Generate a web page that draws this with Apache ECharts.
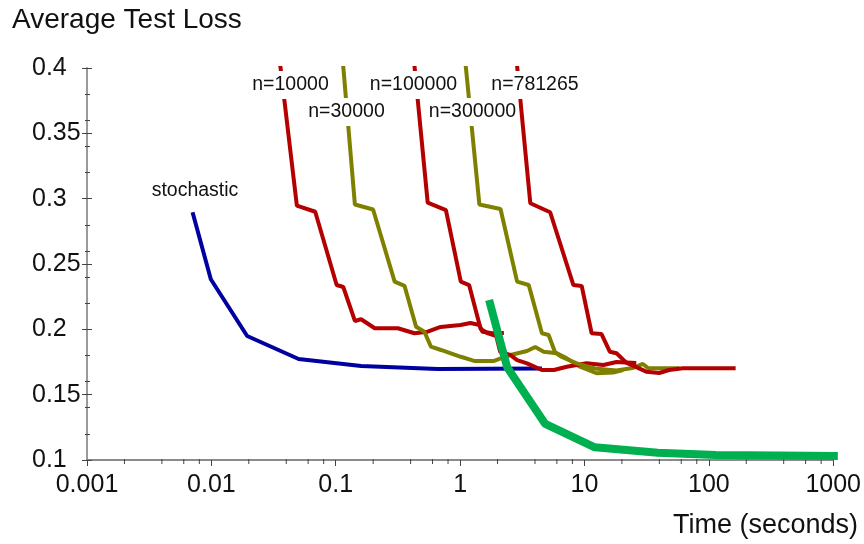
<!DOCTYPE html>
<html>
<head>
<meta charset="utf-8">
<script src="https://cdn.jsdelivr.net/npm/echarts@6/dist/echarts.min.js"></script>
<style>
html,body{margin:0;padding:0;background:#fff;}
#chart{width:864px;height:544px;}
</style>
</head>
<body>
<div id="chart"></div>
<script>
// ---- data (time in seconds, average test loss) ----
const stochasticTime = [0.00706, 0.0099, 0.0194, 0.0503, 0.160, 0.660, 4.55];
const stochasticLoss = [0.2896, 0.2383, 0.1949, 0.1773, 0.1720, 0.1697, 0.1700];

const greenTime = [1.71, 2.39, 4.84, 12.1, 38.9, 113.8, 1090];
const greenLoss = [0.2225, 0.171, 0.1276, 0.1097, 0.1056, 0.1038, 0.103];

const n10000Time = [0.035, 0.0487, 0.0684, 0.1017, 0.115, 0.1426, 0.160, 0.206, 0.316, 0.430, 0.549, 0.6975, 1.007, 1.21, 1.43, 1.51, 1.815, 2.25];
const n10000Loss = [0.41, 0.2946, 0.290, 0.2339, 0.2324, 0.2064, 0.2077, 0.2008, 0.2008, 0.197, 0.1982, 0.2018, 0.2033, 0.2049, 0.2033, 0.1982, 0.197, 0.1972];

const n30000Time = [0.1129, 0.1426, 0.1997, 0.2976, 0.3577, 0.4426, 0.5164, 0.583, 0.702, 1.013, 1.296, 1.873, 2.54, 3.45, 4.02, 4.70, 6.0, 7.21, 9.2, 12.5, 17.0, 20.45];
const n30000Loss = [0.41, 0.2955, 0.2917, 0.2365, 0.2332, 0.202, 0.1982, 0.1867, 0.1842, 0.179, 0.1758, 0.1758, 0.1804, 0.1834, 0.1865, 0.1829, 0.1817, 0.1778, 0.1714, 0.1664, 0.167, 0.1689];

const n100000Time = [0.4212, 0.549, 0.769, 1.013, 1.182, 1.463, 1.656, 1.953, 2.102, 2.527, 2.874, 3.454, 4.55, 5.68, 7.21, 10.4, 14.2, 18.1, 26.1];
const n100000Loss = [0.41, 0.2969, 0.2913, 0.2365, 0.2339, 0.2003, 0.1972, 0.1949, 0.1827, 0.1804, 0.1765, 0.174, 0.1689, 0.1689, 0.1714, 0.174, 0.1727, 0.175, 0.1742];

const n300000Time = [1.088, 1.429, 2.114, 2.874, 3.564, 4.55, 5.15, 5.81, 6.58, 8.66, 12.06, 18.1, 24.3, 29.5, 32.6, 57.9];
const n300000Loss = [0.41, 0.2955, 0.2921, 0.2365, 0.2339, 0.197, 0.1957, 0.1823, 0.1788, 0.1739, 0.170, 0.1685, 0.1704, 0.1735, 0.1702, 0.1702];

const n781265Time = [2.817, 3.67, 5.30, 8.15, 9.50, 11.42, 13.72, 15.98, 18.1, 21.7, 31.4, 39.9, 47.9, 61.7, 164.3];
const n781265Loss = [0.41, 0.2965, 0.2896, 0.2339, 0.2332, 0.197, 0.1964, 0.1829, 0.1817, 0.1745, 0.1676, 0.1666, 0.1689, 0.1702, 0.1702];

// axis tick values
const xMin = 0.001, xMax = 1000;
const yMin = 0.1, yMax = 0.4;
const xMinorTicks = [0.002,0.004,0.006,0.008, 0.02,0.04,0.06,0.08, 0.2,0.4,0.6,0.8, 2,4,6,8, 20,40,60,80, 200,400,600,800];

const annotations = [
  {text: 'n=10000', cx: 290.5, cy: 85},
  {text: 'n=30000', cx: 346.5, cy: 112},
  {text: 'n=100000', cx: 413.5, cy: 85},
  {text: 'n=300000', cx: 472.5, cy: 112},
  {text: 'n=781265', cx: 535, cy: 85},
  {text: 'stochastic', cx: 195, cy: 191}
];

function pairs(t, l) { return t.map((v, i) => [v, l[i]]); }

const RED = '#B40000', OLIVE = '#808000', BLUE = '#0000A0', GREEN = '#00B050';
const FONT = '"Liberation Sans", Arial, sans-serif';

function lineSeries(name, t, l, color, width, extra) {
  return Object.assign({
    name: name, type: 'line', data: pairs(t, l), showSymbol: false, symbol: 'none',
    lineStyle: {color: color, width: width}, itemStyle: {color: color},
    xAxisIndex: 0, yAxisIndex: 0, animation: false, silent: true
  }, extra || {});
}

const chart = echarts.init(document.getElementById('chart'), null, {renderer: 'canvas'});

const yCommon = {type: 'value', min: yMin, max: yMax, position: 'left', splitLine: {show: false}};

chart.setOption({
  animation: false,
  backgroundColor: '#fff',
  title: [
    {text: 'Average Test Loss', left: 12, top: 6, padding: 0,
     textStyle: {fontFamily: FONT, fontSize: 28, fontWeight: 'normal', color: '#111'}},
    {text: 'Time (seconds)', right: 6, top: 512, padding: 0,
     textStyle: {fontFamily: FONT, fontSize: 27, fontWeight: 'normal', color: '#111'}}
  ],
  grid: {left: 87, right: 26, top: 68, bottom: 84, containLabel: false},
  xAxis: [{
    type: 'log', logBase: 10, min: xMin, max: xMax, splitNumber: 6,
    axisLine: {show: true, lineStyle: {color: '#666', width: 1.5}},
    axisTick: {show: true, length: 6, lineStyle: {color: '#444', width: 1}},
    splitLine: {show: false},
    axisLabel: {margin: 13, fontFamily: FONT, fontSize: 25, color: '#111',
      formatter: v => String(Number(Number(v).toPrecision(1)))}
  }],
  yAxis: [
    Object.assign({}, yCommon, {
      interval: 0.05,
      axisLine: {show: true, lineStyle: {color: '#9a9a9a', width: 2}},
      axisTick: {show: true, length: 5, lineStyle: {color: '#444', width: 1}},
      axisLabel: {margin: 55, align: 'left', fontFamily: FONT, fontSize: 25, color: '#111',
        formatter: v => String(Number(Number(v).toFixed(2)))}
    }),
    Object.assign({}, yCommon, {
      interval: 0.05,
      axisLine: {show: false},
      axisTick: {show: true, inside: true, length: 5, lineStyle: {color: '#444', width: 1}},
      axisLabel: {show: false}
    }),
    Object.assign({}, yCommon, {
      interval: 0.02,
      axisLine: {show: false},
      axisTick: {show: true, length: 2, lineStyle: {color: '#444', width: 1}},
      axisLabel: {show: false}
    }),
    Object.assign({}, yCommon, {
      interval: 0.02,
      axisLine: {show: false},
      axisTick: {show: true, inside: true, length: 3, lineStyle: {color: '#444', width: 1}},
      axisLabel: {show: false}
    })
  ],
  series: [
    {
      type: 'custom', name: 'xMinorTicks', silent: true, clip: false,
      data: xMinorTicks.map(v => [v, yMin]),
      encode: {x: 0, y: 1},
      renderItem: function (params, api) {
        const p = api.coord([api.value(0), api.value(1)]);
        return {type: 'line', shape: {x1: p[0], y1: p[1] - 1, x2: p[0], y2: p[1] + 4},
                style: {stroke: '#444', lineWidth: 1}};
      }
    },
    lineSeries('stochastic', stochasticTime, stochasticLoss, BLUE, 4),
    lineSeries('n=10000', n10000Time, n10000Loss, RED, 4),
    lineSeries('n=30000', n30000Time, n30000Loss, OLIVE, 4),
    lineSeries('n=100000', n100000Time, n100000Loss, RED, 4),
    lineSeries('n=300000', n300000Time, n300000Loss, OLIVE, 4),
    lineSeries('n=781265', n781265Time, n781265Loss, RED, 4),
    lineSeries('green', greenTime, greenLoss, GREEN, 8, {clip: false, z: 5})
  ],
  graphic: annotations.map(a => ({
    type: 'text', z: 100,
    style: {
      text: a.text, x: a.cx, y: a.cy, align: 'center', verticalAlign: 'middle',
      font: '19.5px ' + FONT, fill: '#111',
      backgroundColor: '#fff', padding: [4, 2]
    }
  }))
});
</script>
</body>
</html>
